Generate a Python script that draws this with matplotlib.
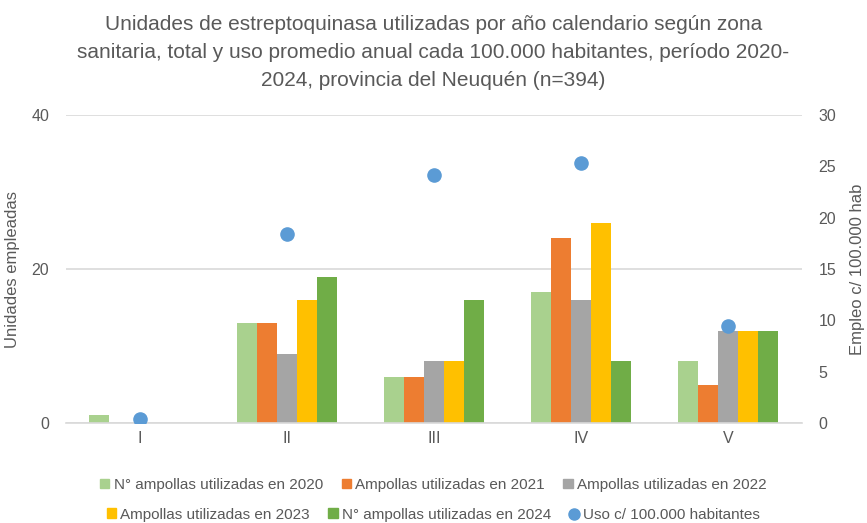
import numpy as np
import matplotlib.pyplot as plt
from matplotlib.lines import Line2D
from matplotlib.patches import Patch

plt.rcParams['font.family'] = ['Liberation Sans', 'DejaVu Sans']

# Data
zonas = ["I", "II", "III", "IV", "V"]
series_names = ["N° ampollas utilizadas en 2020", "Ampollas utilizadas en 2021",
                "Ampollas utilizadas en 2022", "Ampollas utilizadas en 2023",
                "N° ampollas utilizadas en 2024"]
v2020 = [1, 13, 6, 17, 8]
v2021 = [0, 13, 6, 24, 5]
v2022 = [0, 9, 8, 16, 12]
v2023 = [0, 16, 8, 26, 12]
v2024 = [0, 19, 16, 8, 12]
uso_100k = [0.4, 18.4, 24.2, 25.3, 9.5]

colors = ["#A9D18E", "#ED7D31", "#A5A5A5", "#FFC000", "#70AD47"]
dot_color = "#5B9BD5"
text_color = "#595959"

fig = plt.figure(figsize=(8.67, 5.23), dpi=100)
ax = fig.add_axes([0.076, 0.191, 0.849, 0.589])
ax2 = ax.twinx()

x = np.arange(len(zonas))
width = 0.136
all_vals = [v2020, v2021, v2022, v2023, v2024]
for i, (vals, c, name) in enumerate(zip(all_vals, colors, series_names)):
    ax.bar(x + (i - 2) * width, vals, width, color=c, label=name, zorder=2)

ax2.scatter(x, uso_100k, s=90, color=dot_color, zorder=3)

ax.set_xlim(-0.5, len(zonas) - 0.5)
ax.set_ylim(0, 40)
ax.set_yticks([0, 20, 40])
ax2.set_ylim(0, 30)
ax2.set_yticks([0, 5, 10, 15, 20, 25, 30])
ax.set_xticks(x)
ax.set_xticklabels(zonas)

ax.grid(axis='y', color="#D9D9D9", linewidth=1.2, zorder=0)
ax.set_axisbelow(True)
for a in (ax, ax2):
    for s in a.spines.values():
        s.set_visible(False)
    a.tick_params(length=0, labelsize=11.5, colors=text_color)
ax.spines['bottom'].set_visible(True)
ax.spines['bottom'].set_color("#D9D9D9")
ax.spines['bottom'].set_linewidth(1.2)
ax.tick_params(axis='y', pad=12)
ax2.tick_params(axis='y', pad=12)
ax.tick_params(axis='x', pad=6)

ax.set_ylabel("Unidades empleadas", fontsize=12, color=text_color, labelpad=8)
ax2.set_ylabel("Empleo c/ 100.000 hab", fontsize=12, color=text_color, labelpad=10)

fig.text(0.5, 0.972,
         "Unidades de estreptoquinasa utilizadas por año calendario según zona\n"
         "sanitaria, total y uso promedio anual cada 100.000 habitantes, período 2020-\n"
         "2024, provincia del Neuquén (n=394)",
         ha='center', va='top', fontsize=15, color=text_color, linespacing=1.6)

# Legend in two rows, as in the reference
row1 = [Patch(color=colors[i], label=series_names[i]) for i in range(3)]
row2 = [Patch(color=colors[i], label=series_names[i]) for i in range(3, 5)]
row2.append(Line2D([], [], marker='o', linestyle='', color=dot_color, markersize=8,
                   label="Uso c/ 100.000 habitantes"))
leg_kw = dict(ncol=3, frameon=False, fontsize=11, handlelength=0.6, handleheight=0.6,
              handletextpad=0.3, columnspacing=1.2, labelcolor=text_color)
fig.legend(handles=row1, loc='center', bbox_to_anchor=(0.5, 0.073), **leg_kw)
fig.legend(handles=row2, loc='center', bbox_to_anchor=(0.5, 0.016), **leg_kw)

fig.savefig("out.png", dpi=100)
